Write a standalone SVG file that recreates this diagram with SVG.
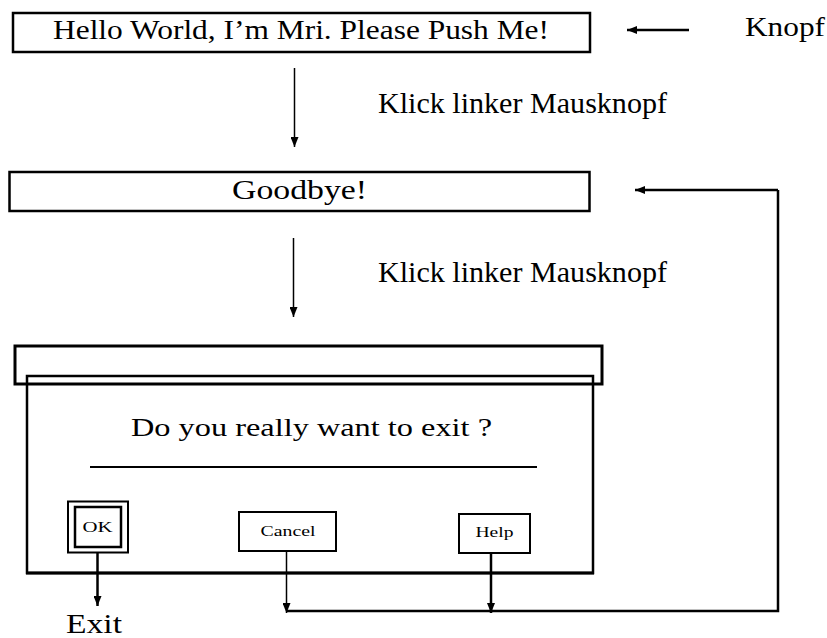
<svg xmlns="http://www.w3.org/2000/svg" width="827" height="638" viewBox="0 0 827 638">
<style>
text{font-family:"Liberation Serif","DejaVu Serif",serif;fill:#000}
.box{fill:none;stroke:#000;stroke-width:2.5}
.thin{fill:none;stroke:#000;stroke-width:1.5}
.thick{fill:none;stroke:#000;stroke-width:2.5}
</style>
<defs>
<marker id="ah" viewBox="0 0 10 8" refX="10" refY="4" markerWidth="10" markerHeight="8" markerUnits="userSpaceOnUse" orient="auto">
<path d="M0,0 L10,4 L0,8 Z" fill="#000"/>
</marker>
</defs>
<rect width="827" height="638" fill="#fff"/>
<g id="hello">
<rect class="box" x="13" y="13" width="577" height="39"/>
<text x="53" y="39" font-size="28" textLength="496" lengthAdjust="spacingAndGlyphs">Hello World, I’m Mri. Please Push Me!</text>
</g>
<g id="knopf">
<text x="745" y="36" font-size="28" textLength="80" lengthAdjust="spacingAndGlyphs">Knopf</text>
</g>
<g id="goodbye">
<rect class="box" x="9.5" y="172" width="580" height="39"/>
<text x="232" y="199" font-size="28" textLength="135" lengthAdjust="spacingAndGlyphs">Goodbye!</text>
</g>
<g id="label1"><text x="378" y="113" font-size="29" textLength="289" lengthAdjust="spacingAndGlyphs">Klick linker Mausknopf</text></g>
<g id="label2"><text x="378" y="282" font-size="29" textLength="289" lengthAdjust="spacingAndGlyphs">Klick linker Mausknopf</text></g>
<g id="dialog">
<rect x="15" y="346" width="587" height="38" fill="none" stroke="#000" stroke-width="3"/>
<rect class="box" x="27" y="376" width="566" height="197" stroke-width="2"/>
<line x1="26" y1="573" x2="594" y2="573" stroke="#000" stroke-width="3"/>
<text x="131" y="436" font-size="25" textLength="361" lengthAdjust="spacingAndGlyphs">Do you really want to exit ?</text>
<line x1="90" y1="467" x2="537" y2="467" stroke="#000" stroke-width="2"/>
</g>
<g id="ok">
<rect x="68" y="501.5" width="60" height="51" fill="none" stroke="#000" stroke-width="2"/>
<rect x="75" y="507" width="46" height="40" fill="none" stroke="#000" stroke-width="2.5"/>
<text x="97.5" y="532" font-size="15" text-anchor="middle" textLength="30" lengthAdjust="spacingAndGlyphs">OK</text>
</g>
<g id="cancel">
<rect x="239" y="512" width="97" height="39" fill="none" stroke="#000" stroke-width="2"/>
<text x="288" y="536" font-size="15" text-anchor="middle" textLength="55" lengthAdjust="spacingAndGlyphs">Cancel</text>
</g>
<g id="help">
<rect x="459" y="514" width="71" height="39" fill="none" stroke="#000" stroke-width="2"/>
<text x="494.5" y="537" font-size="15" text-anchor="middle" textLength="38" lengthAdjust="spacingAndGlyphs">Help</text>
</g>
<g id="exit"><text x="66" y="633" font-size="28" textLength="56" lengthAdjust="spacingAndGlyphs">Exit</text></g>
<g id="connectors">
<line class="thick" x1="689" y1="30" x2="627" y2="30" marker-end="url(#ah)"/>
<line class="thin" x1="294.5" y1="68" x2="294.5" y2="147" marker-end="url(#ah)"/>
<line class="thin" x1="293.5" y1="238" x2="293.5" y2="317" marker-end="url(#ah)"/>
<line class="thick" x1="97.5" y1="552" x2="97.5" y2="606" marker-end="url(#ah)"/>
<line class="thin" x1="286.5" y1="551" x2="286.5" y2="613" marker-end="url(#ah)"/>
<line class="thick" x1="491" y1="553" x2="491" y2="613" marker-end="url(#ah)"/>
<polyline class="thick" points="286,611 778,611 778,190"/>
<line class="thick" x1="778" y1="190" x2="635" y2="190" marker-end="url(#ah)"/>
</g>
</svg>
